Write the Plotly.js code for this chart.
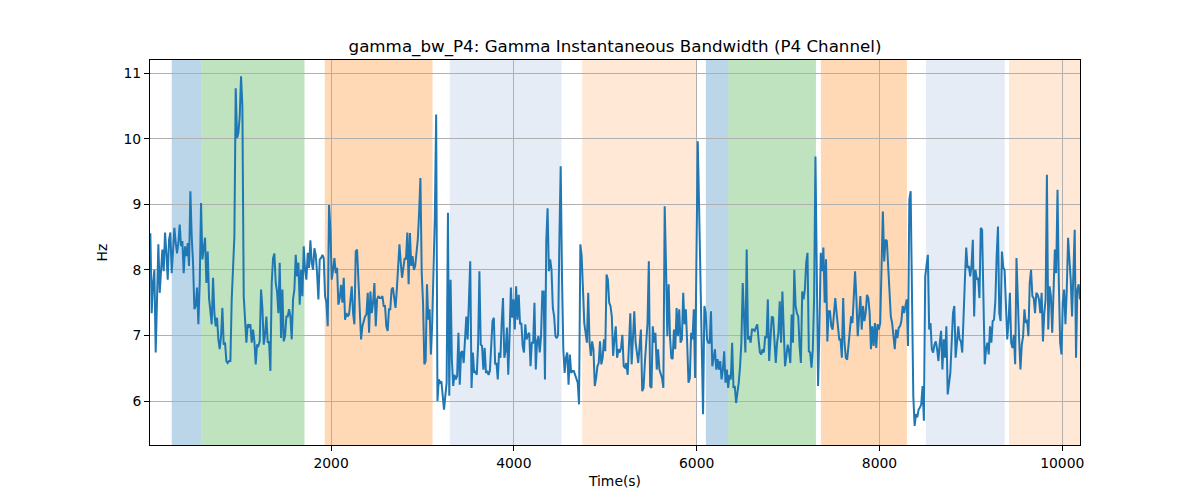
<!DOCTYPE html>
<html>
<head>
<meta charset="utf-8">
<script src="https://cdn.plot.ly/plotly-3.0.1.min.js"></script>
<style>
  body { margin: 0; background: #fff; }
  #chart { width: 1200px; height: 500px; }
</style>
</head>
<body>
<div id="chart"></div>
<script>
// gamma bandwidth (Hz) in four consecutive stretches
var seg1 = [8.56,7.34,7.80,8.00,6.74,7.70,8.39,7.65,8.06,8.31,7.98,8.57,8.26,7.85,8.46,8.57,7.95,8.41,8.64,8.41,
            8.25,8.41,8.69,8.36,8.44,7.95,8.36,8.21,8.41,8.06,9.20,8.51,8.11,7.40,7.45,7.73,7.17,7.80,9.02,8.16,
            8.31,8.49,7.80,8.28,7.57,7.40,7.17,7.88,7.34,7.14,7.27,6.94,6.79,6.99,7.42,6.86,6.89,6.61,6.58,6.61,
            6.61,7.55,8.21,8.51,10.77,10.01,10.09,10.34,10.95,10.49,7.60,7.29,6.89,7.17,7.14,7.17,6.89,7.09,6.91,6.56,
            6.86,6.84,6.91,7.70,7.42,6.86,7.01,7.29,6.89,6.91,6.46,7.80,8.18,8.25,7.80,7.67,7.34,8.11,6.96,7.70,
            6.91,6.99,7.29,7.29,7.40,7.29,6.94,7.55,7.70,8.23,7.90,8.11,7.47,8.00,7.60,8.36,8.00,7.85,8.26,8.03,
            8.45,8.11,8.00,8.33,8.23,7.95,7.55,8.16,8.18,8.23,8.18,7.60,7.50,7.14,8.99,8.61,7.85,8.00,8.18,7.95,
            8.03,7.47,7.57,7.77,7.50,7.88,7.24,7.34,7.29,7.32,7.50,7.75,7.34,7.17,8.28,8.31,7.85,7.34,6.94,7.14,
            7.22,7.29,7.32,7.65,7.04,7.67,7.34,7.50,7.80,7.14,7.55,7.60];
var seg2 = [7.57,7.57,7.60,7.45,7.45,7.14,7.07,7.40,7.40,7.70,7.73,7.60,7.42,7.70,8.06,8.39,8.11,7.88,8.03,8.18,
            8.16,8.57,7.78,8.56,8.06,8.21,8.00,8.06,8.26,8.46,8.87,9.40,7.95,7.50,6.56,6.61,7.78,7.24,7.40,6.71,
            7.19,8.16,8.82,10.37,6.00,6.33,6.28,6.30,6.13,5.87,6.08,6.28,8.87,6.08,7.85,6.63,6.23,6.40,6.33,6.38,
            7.04,6.25,6.74,6.76,6.58,6.94,7.29,6.94,7.60,8.13,6.20,6.74,6.43,6.46,6.40,6.86,7.98,6.86,6.84,6.48,
            6.81,6.43,6.46,6.40,6.46,6.94,7.22,7.27,6.56,6.58,6.33,6.74,6.66,7.19,7.57,6.66,6.76,7.12,6.40,6.99,
            7.73,7.27,7.55,7.09,7.75,7.24,7.62,7.17,7.19,6.84,6.74,7.17,6.94,7.01,7.04,6.53,6.89,6.89,7.50,6.48,
            6.91,6.99,6.74,6.99,7.67,7.67,6.33,8.44,8.94,7.98,8.16,8.00,7.42,7.29,6.99,6.96,7.01,8.46,9.58,7.90,
            6.79,6.43,6.66,6.74,6.25,6.71,6.43,6.46,6.46,6.40,6.35,6.28,5.95,8.39,8.21,7.80,7.19,7.04,6.89,7.65,
            6.91,6.69,6.91,6.79,6.23,6.35,6.53,6.58,6.91,6.56,6.66,6.94,6.76,7.93,7.85,7.50];
var seg3 = [7.45,7.29,6.69,6.94,7.14,6.66,6.79,6.74,6.81,7.01,6.53,6.51,6.58,6.40,6.89,7.34,6.56,6.99,7.37,6.89,
            6.74,6.58,6.84,7.09,6.15,6.20,6.58,6.89,7.19,8.13,6.23,6.20,7.14,6.89,7.04,6.48,6.79,6.48,6.43,6.35,
            6.20,8.97,8.06,6.99,7.78,6.99,6.66,6.64,7.09,6.79,7.42,6.99,7.40,6.89,6.94,7.65,7.17,7.40,6.89,6.28,
            6.35,7.04,6.94,7.40,6.35,8.31,9.96,8.97,7.80,6.79,5.80,7.45,7.34,6.94,6.89,6.89,7.37,6.53,6.69,6.79,
            6.48,6.64,6.48,6.61,6.33,6.48,6.76,6.28,6.48,6.20,6.40,6.33,6.89,6.20,6.23,5.97,6.13,6.28,6.53,6.89,
            7.80,7.09,6.74,8.31,6.94,6.99,6.89,7.09,7.09,7.07,7.14,7.17,6.94,6.74,6.71,6.79,6.74,6.99,6.96,7.55,
            6.61,6.99,7.29,7.27,6.96,6.58,6.89,7.04,7.52,6.89,7.67,6.89,6.53,6.69,6.86,6.76,6.58,7.32,6.89,8.00,
            7.45,7.34,7.29,6.84,6.58,7.67,7.55,7.70,8.11,8.26,6.76,6.74,6.51,6.79,7.60,9.73,7.80,6.23,7.09,8.26,
            7.98,8.34,7.50,8.16,6.91,7.37,7.37,7.14,7.09,7.29,7.57,7.34,7.14,6.94];
var seg4 = [6.94,6.66,7.57,6.89,6.66,6.63,6.84,7.09,7.29,7.19,7.55,7.98,7.55,6.99,7.29,7.60,7.09,7.45,7.22,7.34,
            7.62,7.57,7.34,6.79,7.14,6.84,7.19,6.81,7.17,7.09,7.19,8.31,8.89,8.13,8.46,8.44,8.06,7.50,7.29,7.19,
            6.94,6.79,7.09,6.96,7.12,7.14,7.22,7.45,7.34,7.47,7.55,6.84,9.07,9.20,7.19,6.08,5.62,5.80,5.75,5.87,
            5.90,5.95,6.23,5.70,7.90,8.11,8.23,7.09,7.19,6.79,6.74,6.86,6.91,6.79,6.61,6.89,7.07,6.48,6.94,6.66,
            7.14,6.10,6.33,6.43,6.89,7.34,7.45,6.66,6.89,7.14,6.94,6.91,6.74,7.40,7.85,8.34,8.03,8.06,7.90,8.06,
            8.46,7.29,8.00,7.85,7.88,7.57,8.64,8.61,7.50,6.56,6.79,6.89,6.71,7.14,6.89,7.22,7.24,7.52,8.21,8.66,
            7.34,7.22,8.28,8.03,8.00,7.40,6.94,7.22,7.65,6.89,6.81,7.01,6.56,8.18,7.34,6.94,6.48,6.86,6.99,7.40,
            7.19,7.24,6.99,7.80,8.00,7.60,7.57,7.34,7.65,7.62,7.55,7.34,7.65,6.91,7.34,7.55,9.45,7.09,7.75,7.60,
            7.04,7.70,8.31,7.95,9.22,7.80,6.89,6.71,7.50,7.70,7.17,7.70,8.49,8.16,7.85,7.29,7.85,8.61,6.66,7.70,
            7.78,7.55];
// time span (s) covered by each stretch
var segStart = [23, 2533, 5057, 7574];
var segEnd   = [2518, 5043, 7560, 10194];

// shaded intervals (s)
var bandStart = [257, 582, 1931, 3299, 4747, 6101, 6345, 7359, 8508, 9417];
var bandEnd   = [582, 1709, 3110, 4521, 5995, 6345, 7305, 8300, 9370, 10300];
var bandKind  = ['blue', 'green', 'orange', 'lightblue', 'lightorange',
                 'blue', 'green', 'orange', 'lightblue', 'lightorange'];

var xTicks = [2000, 4000, 6000, 8000, 10000];
var yTicks = [6, 7, 8, 9, 10, 11];

var kindColor = {
  blue: 'rgba(31,119,180,0.3)',
  green: 'rgba(44,160,44,0.3)',
  orange: 'rgba(255,127,14,0.3)',
  lightblue: 'rgb(229,236,246)',
  lightorange: 'rgb(255,233,214)'
};

var segs = [seg1, seg2, seg3, seg4];
var t = [], y = [];
for (var s = 0; s < segs.length; s++) {
  var n = segs[s].length;
  var dt = (segEnd[s] - segStart[s]) / (n - 1);
  for (var i = 0; i < n; i++) {
    t.push(segStart[s] + i * dt);
    y.push(segs[s][i]);
  }
}

// spans go under the grid, like matplotlib's axvspan
var shapes = [];
for (var k = 0; k < bandStart.length; k++) {
  shapes.push({
    type: 'rect', xref: 'x', yref: 'paper',
    x0: bandStart[k], x1: bandEnd[k], y0: 0, y1: 1,
    fillcolor: kindColor[bandKind[k]],
    line: {width: 0},
    layer: 'below'
  });
}

var trace = {
  x: t, y: y,
  type: 'scatter', mode: 'lines',
  line: {color: '#1f77b4', width: 2},
  showlegend: false,
  hoverinfo: 'skip'
};

var axisCommon = {
  showline: true, mirror: true, linecolor: '#000', linewidth: 1,
  ticks: 'outside', ticklen: 5, tickwidth: 1, tickcolor: '#000',
  showgrid: true, gridcolor: '#b0b0b0', gridwidth: 1,
  zeroline: false,
  tickfont: {family: 'DejaVu Sans', size: 13.9, color: '#000'}
};

var layout = {
  width: 1200, height: 500,
  margin: {l: 150, r: 120, t: 60, b: 55},
  paper_bgcolor: '#fff', plot_bgcolor: '#fff',
  font: {family: 'DejaVu Sans', color: '#000'},
  title: {
    text: 'gamma_bw_P4: Gamma Instantaneous Bandwidth (P4 Channel)',
    font: {family: 'DejaVu Sans', size: 16.7, color: '#000'},
    x: 0.5, xref: 'paper', y: 0.908, yref: 'container', yanchor: 'middle'
  },
  xaxis: Object.assign({}, axisCommon, {
    range: [19, 10194],
    tickvals: xTicks,
    ticktext: xTicks.map(String),
    title: {text: 'Time(s)', font: {family: 'DejaVu Sans', size: 13.9, color: '#000'}, standoff: 6}
  }),
  yaxis: Object.assign({}, axisCommon, {
    range: [5.33, 11.2],
    tickvals: yTicks,
    ticktext: yTicks.map(String),
    title: {text: 'Hz', font: {family: 'DejaVu Sans', size: 13.9, color: '#000'}, standoff: 12}
  }),
  shapes: shapes
};

Plotly.newPlot('chart', [trace], layout, {staticPlot: true});
</script>
</body>
</html>
